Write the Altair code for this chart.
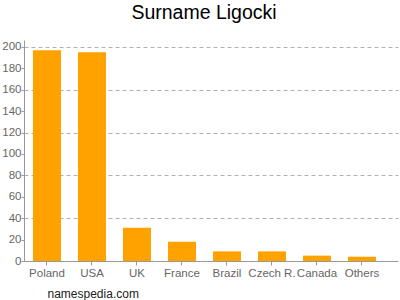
import altair as alt
import pandas as pd

countries = ["Poland", "USA", "UK", "France", "Brazil", "Czech R.", "Canada", "Others"]
counts = [197, 195, 31, 18, 9, 9, 5, 4]
y_ticks = [0, 20, 40, 60, 80, 100, 120, 140, 160, 180, 200]

df = pd.DataFrame({"country": countries, "count": counts})

FONT = "Liberation Sans"

bars = alt.Chart(df).mark_bar(color="#ffa200").encode(
    x=alt.X(
        "country:N",
        sort=countries,
        scale=alt.Scale(paddingInner=0.378, paddingOuter=0.345, align=0.29),
        axis=alt.Axis(
            title="namespedia.com",
            titleFont=FONT,
            titleFontSize=12,
            titleFontWeight="normal",
            titleColor="#222",
            titleAnchor="start",
            titleAlign="left",
            titleBaseline="alphabetic",
            titleX=23,
            titleY=36,
            labelAngle=0,
            labelFont=FONT,
            labelFontSize=11.5,
            labelColor="#666",
            labelPadding=2,
            labelOverlap=False,
            tickSize=4,
            tickColor="#999",
            domainColor="#999",
            grid=False,
        ),
    ),
    y=alt.Y(
        "count:Q",
        scale=alt.Scale(domain=[0, 206.5], nice=False),
        axis=alt.Axis(
            title=None,
            values=y_ticks,
            labelFont=FONT,
            labelFontSize=11.5,
            labelColor="#666",
            labelPadding=0,
            tickSize=3,
            tickColor="#999",
            domainColor="#999",
            grid=True,
            gridColor="#b0b0b0",
            gridDash=[4, 3],
            gridOpacity={"condition": {"test": "datum.value % 40 == 0 && datum.value > 0", "value": 1}, "value": 0},
        ),
    ),
)

chart = bars.properties(
    width=374,
    height=221,
    title=alt.TitleParams(
        "Surname Ligocki",
        font=FONT,
        fontSize=19.5,
        fontWeight="normal",
        color="#000",
        anchor="middle",
        dx=-7,
        offset=17,
    ),
    autosize="none",
    padding={"left": 24, "top": 40, "right": 2, "bottom": 39},
).configure_view(stroke=None)

chart.save("out.html", embed_options={"renderer": "svg", "actions": False})
